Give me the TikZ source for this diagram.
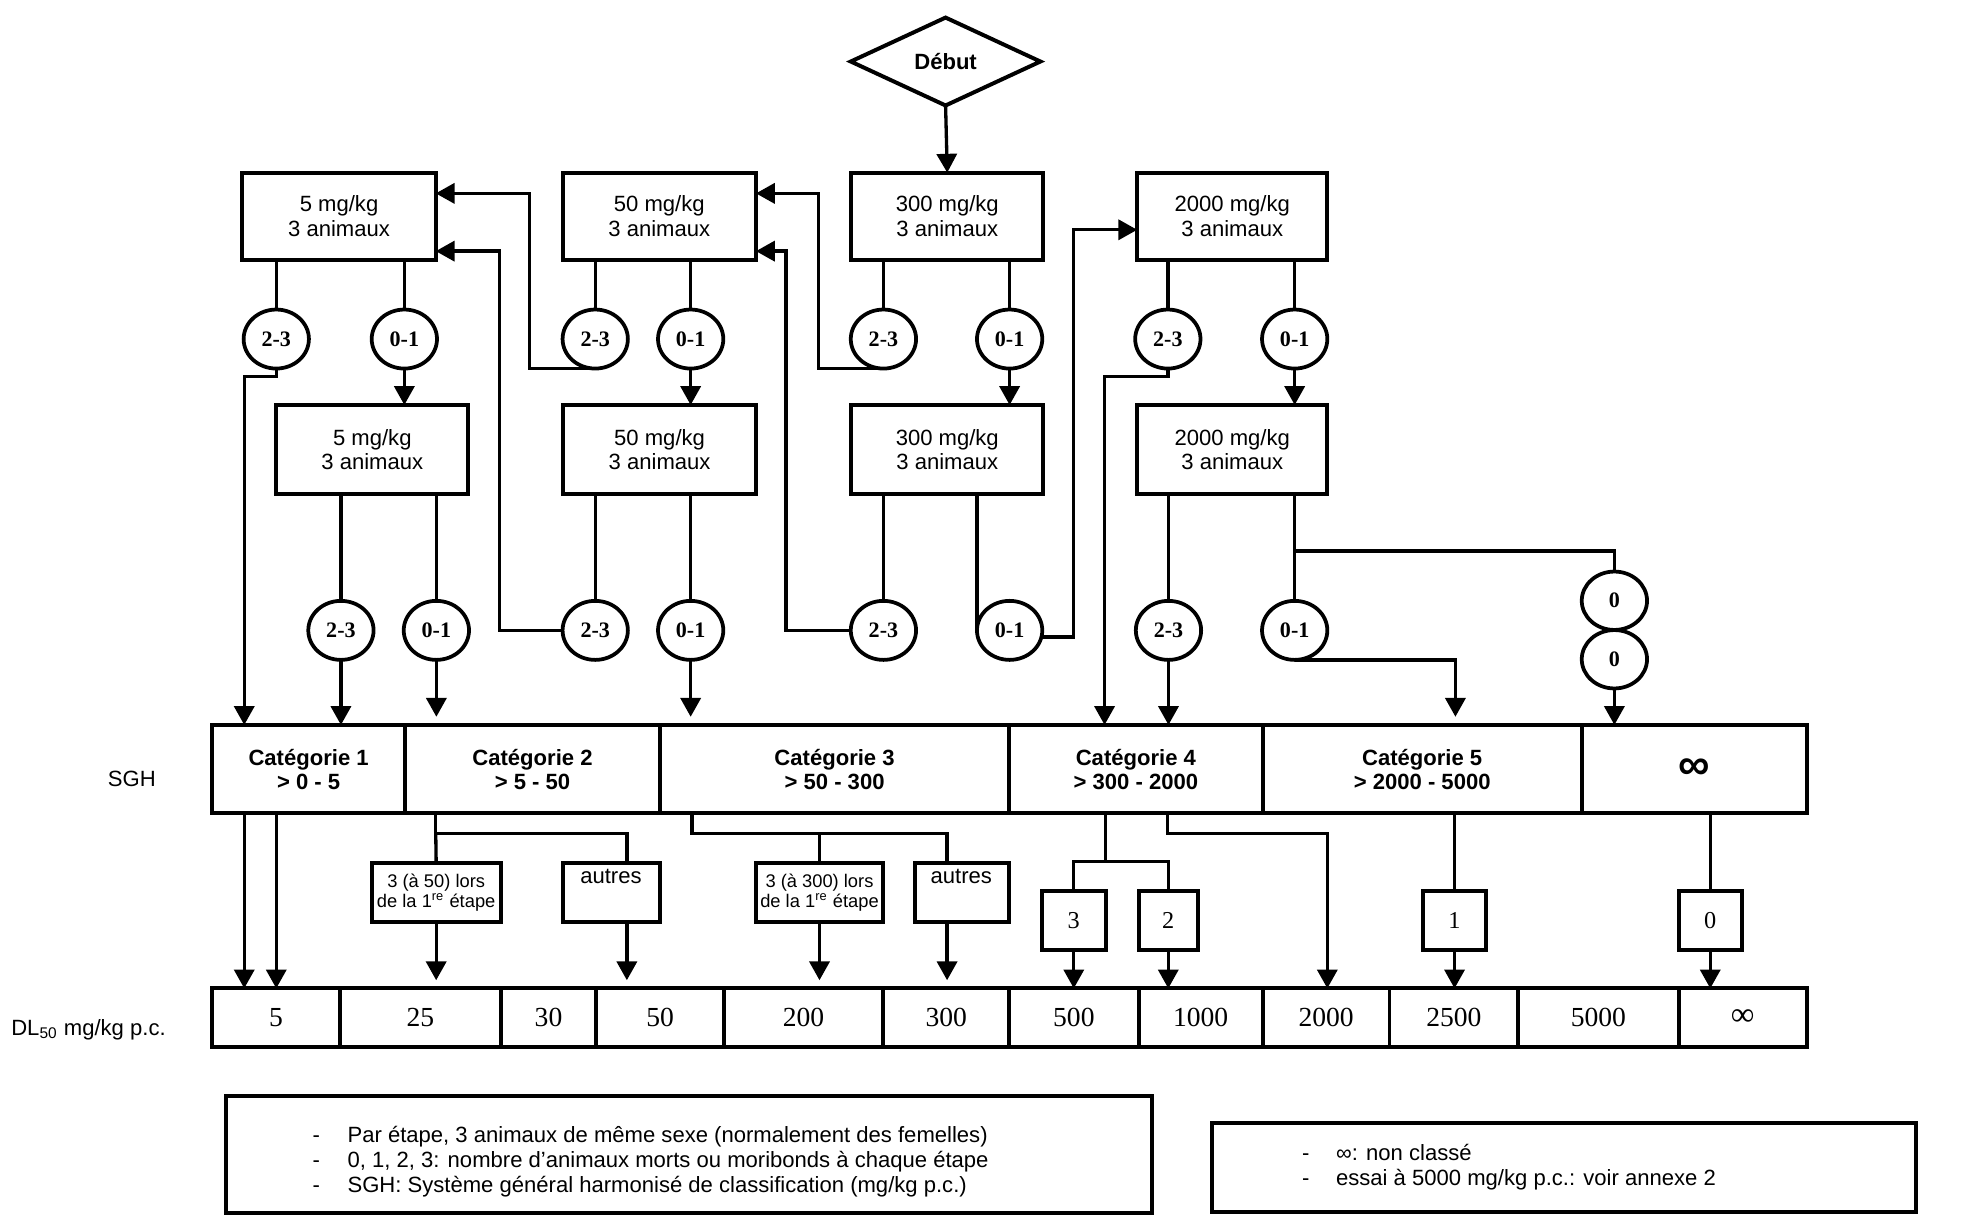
\documentclass[tikz,border=0pt]{standalone}
\usepackage{fontspec}
\setmainfont{Liberation Sans}
\newfontfamily\serif{Liberation Serif}
\usetikzlibrary{arrows.meta,shapes.geometric}
\newcommand{\pxl}[1]{#1*0.02cm}
\begin{document}
\begin{tikzpicture}[x=0.02cm,y=-0.02cm,line width=1.5pt,
  arr/.style={-{Triangle[length=0.3cm,width=0.32cm]}},
  box/.style={draw,rectangle,inner sep=0pt,outer sep=0pt,align=center,line width=1.8pt,
    font=\fontsize{10}{11.3}\selectfont},
  circ/.style={draw,ellipse,inner sep=0pt,outer sep=0pt,line width=1.7pt,minimum width=\pxl{52},minimum height=\pxl{47},
    font=\serif\bfseries\fontsize{10}{10}\selectfont},
  cell/.style={draw,rectangle,inner sep=0pt,outer sep=0pt,align=center,line width=1.8pt,
    minimum height=\pxl{70.4},font=\bfseries\fontsize{10}{10.8}\selectfont},
  dlcell/.style={draw,rectangle,inner sep=0pt,outer sep=0pt,line width=1.8pt,
    minimum height=\pxl{46.4},font=\serif\fontsize{12.5}{13}\selectfont},
  sbox/.style={draw,rectangle,inner sep=0pt,outer sep=0pt,align=center,line width=1.8pt,
    minimum height=\pxl{46.5},font=\fontsize{8.3}{7.8}\selectfont},
  nbox/.style={draw,rectangle,inner sep=0pt,outer sep=0pt,line width=1.8pt,
    minimum height=\pxl{47.3},font=\serif\fontsize{11}{12}\selectfont},
  lbl/.style={inner sep=0pt,outer sep=0pt,font=\fontsize{10}{11.3}\selectfont},
  gap/.style={shorten >=0.13cm}
]
\useasboundingbox (0,0) rectangle (1568,979);

% start
\node[draw,diamond,aspect=2.16,inner sep=0pt,outer sep=0pt,line width=1.8pt,minimum width=\pxl{151},minimum height=\pxl{70},
  font=\bfseries\fontsize{10}{12}\selectfont] (debut) at (753,49) {Début};

% row 1 boxes
\node[box,minimum width=\pxl{154},minimum height=\pxl{69.5}] (A1) at (270,172.25) {5 mg/kg\\3 animaux};
\node[box,minimum width=\pxl{154},minimum height=\pxl{69.5}] (B1) at (525,172.25) {50 mg/kg\\3 animaux};
\node[box,minimum width=\pxl{152.7},minimum height=\pxl{69.5}] (C1) at (754.35,172.25) {300 mg/kg\\3 animaux};
\node[box,minimum width=\pxl{151.4},minimum height=\pxl{69.5}] (D1) at (981.3,172.25) {2000 mg/kg\\3 animaux};

% row 2 boxes
\node[box,minimum width=\pxl{153},minimum height=\pxl{71.1}] (A2) at (296.5,358.05) {5 mg/kg\\3 animaux};
\node[box,minimum width=\pxl{153.5},minimum height=\pxl{71.1}] (B2) at (525.25,358.05) {50 mg/kg\\3 animaux};
\node[box,minimum width=\pxl{152.7},minimum height=\pxl{71.1}] (C2) at (754.35,358.05) {300 mg/kg\\3 animaux};
\node[box,minimum width=\pxl{151.4},minimum height=\pxl{71.1}] (D2) at (981.3,358.05) {2000 mg/kg\\3 animaux};

% circles row 1
\node[circ] (a1x) at (220,270) {2-3};
\node[circ] (a1o) at (322,270) {0-1};
\node[circ] (b1x) at (474,270) {2-3};
\node[circ] (b1o) at (550,270) {0-1};
\node[circ] (c1x) at (703.5,270) {2-3};
\node[circ] (c1o) at (804,270) {0-1};
\node[circ] (d1x) at (930,270) {2-3};
\node[circ] (d1o) at (1031,270) {0-1};

% circles row 2
\node[circ] (a2x) at (271.5,502) {2-3};
\node[circ] (a2o) at (347.5,502) {0-1};
\node[circ] (b2x) at (474,502) {2-3};
\node[circ] (b2o) at (550,502) {0-1};
\node[circ] (c2x) at (703.5,502) {2-3};
\node[circ] (c2o) at (804,502) {0-1};
\node[circ] (d2x) at (930.5,502) {2-3};
\node[circ] (d2o) at (1031,502) {0-1};
\node[circ,minimum height=\pxl{46.5}] (z1) at (1285.6,478.4) {0};
\node[circ,minimum height=\pxl{46.5}] (z2) at (1285.6,525) {0};

% category row
\node[cell,minimum width=\pxl{153.5}] (cat1) at (245.75,612.5) {Catégorie 1\\> 0 - 5};
\node[cell,minimum width=\pxl{203.1}] (cat2) at (424.05,612.5) {Catégorie 2\\> 5 - 50};
\node[cell,minimum width=\pxl{278}] (cat3) at (664.6,612.5) {Catégorie 3\\> 50 - 300};
\node[cell,minimum width=\pxl{201.9}] (cat4) at (904.55,612.5) {Catégorie 4\\> 300 - 2000};
\node[cell,minimum width=\pxl{254.1}] (cat5) at (1132.55,612.5) {Catégorie 5\\> 2000 - 5000};
\node[cell,minimum width=\pxl{179.1}] (cat6) at (1349.15,612.5) {\fontsize{20}{20}\selectfont ∞};

% DL row
\node[dlcell,minimum width=\pxl{101.7}] (dl1) at (219.85,810.3) {5};
\node[dlcell,minimum width=\pxl{128}] (dl2) at (334.7,810.3) {25};
\node[dlcell,minimum width=\pxl{76.2}] (dl3) at (436.8,810.3) {30};
\node[dlcell,minimum width=\pxl{101.5}] (dl4) at (525.65,810.3) {50};
\node[dlcell,minimum width=\pxl{127}] (dl5) at (639.9,810.3) {200};
\node[dlcell,minimum width=\pxl{100.2}] (dl6) at (753.5,810.3) {300};
\node[dlcell,minimum width=\pxl{103.1}] (dl7) at (855.15,810.3) {500};
\node[dlcell,minimum width=\pxl{98.8}] (dl8) at (956.1,810.3) {1000};
\node[dlcell,minimum width=\pxl{101}] (dl9) at (1056,810.3) {2000};
\node[dlcell,minimum width=\pxl{102.6}] (dl10) at (1157.8,810.3) {2500};
\node[dlcell,minimum width=\pxl{127.6}] (dl11) at (1272.9,810.3) {5000};
\node[dlcell,minimum width=\pxl{102}] (dl12) at (1387.7,810.3) {\fontsize{15}{15}\selectfont ∞};

% lower small boxes
\node[sbox,minimum width=\pxl{102.7}] (s50) at (347.35,710.75) {3 (à 50) lors\\de la 1\textsuperscript{re} étape};
\node[sbox,minimum width=\pxl{77.1}] (autres1) at (487.05,710.75) {};
\node[sbox,minimum width=\pxl{101.6}] (s300) at (652.6,710.75) {3 (à 300) lors\\de la 1\textsuperscript{re} étape};
\node[sbox,minimum width=\pxl{74.8}] (autres2) at (766.2,710.75) {};
\node[lbl] (ta1) at (486.5,698) {autres};
\node[lbl] (ta2) at (765.5,698) {autres};
\node[nbox,minimum width=\pxl{51}] (b3) at (855.1,732.95) {3};
\node[nbox,minimum width=\pxl{47.3}] (b2) at (930.35,732.95) {2};
\node[nbox,minimum width=\pxl{50.6}] (b1) at (1158.3,732.95) {1};
\node[nbox,minimum width=\pxl{50.5}] (b0) at (1361.95,732.95) {0};

% side labels
\node[lbl] (sgh) at (105,620) {SGH};
\node[lbl,anchor=west] (dlab) at (9,820) {DL\textsubscript{50} mg/kg p.c.};

% legends
\node[draw,rectangle,inner sep=0pt,outer sep=0pt,line width=1.8pt,minimum width=\pxl{737.3},minimum height=\pxl{93.5}] (leg1) at (548.95,919.55) {};
\node[lbl,anchor=west,align=left] (leg1t) at (249,925) {\makebox[0.556cm][l]{-}Par étape, 3 animaux de même sexe (normalement des femelles)\\
\makebox[0.556cm][l]{-}0, 1, 2, 3: nombre d’animaux morts ou moribonds à chaque étape\\
\makebox[0.556cm][l]{-}SGH: Système général harmonisé de classification (mg/kg p.c.)};
\node[draw,rectangle,inner sep=0pt,outer sep=0pt,line width=1.8pt,minimum width=\pxl{560.8},minimum height=\pxl{70.4}] (leg2) at (1245.2,929.8) {};
\node[lbl,anchor=west,align=left] (leg2t) at (1037,929.7) {\makebox[0.54cm][l]{-}∞: non classé\\
\makebox[0.54cm][l]{-}essai à 5000 mg/kg p.c.: voir annexe 2};

% ===== connectors =====
\draw[arr] (debut.south) -- (C1.north);

% boxes to circles
\foreach \b/\c in {A1/a1x,A1/a1o,B1/b1x,B1/b1o,C1/c1x,C1/c1o,D1/d1x,D1/d1o,
                   A2/a2x,A2/a2o,B2/b2x,B2/b2o,C2/c2x,D2/d2x,D2/d2o}
  \draw (\b.south -| \c) -- (\c.north);
\draw (C2.south -| c2o.west) -- (c2o.west);

% 0-1 row 1 to row 2 boxes
\draw[arr] (a1o.south) -- (A2.north -| a1o);
\draw[arr] (b1o.south) -- (B2.north -| b1o);
\draw[arr] (c1o.south) -- (C2.north -| c1o);
\draw[arr] (d1o.south) -- (D2.north -| d1o);

% feedback routes
\coordinate (ka1) at (194.5,300);
\draw[arr] (a1x.south) |- (ka1) -- (ka1 |- cat1.north);
\coordinate (kb1) at (421.5,154);
\draw[arr] (b1x.south) -| (kb1) -- (A1.east |- kb1);
\coordinate (kc1) at (651.6,154);
\draw[arr] (c1x.south) -| (kc1) -- (B1.east |- kc1);
\coordinate (kd1) at (879.6,300);
\draw[arr] (d1x.south) |- (kd1) -- (kd1 |- cat4.north);
\coordinate (kb2) at (397.7,200);
\draw[arr] (b2x.west) -| (kb2) -- (A1.east |- kb2);
\coordinate (kc2) at (626,200);
\draw[arr] (c2x.west) -| (kc2) -- (B1.east |- kc2);
\coordinate (kc3) at (855,183);
\draw[arr] (c2o.-12) -| (kc3) -- (D1.west |- kc3);

% row 2 circles to categories
\draw[arr] (a2x.south) -- (a2x.south |- cat1.north);
\draw[arr,gap] (a2o.south) -- (a2o.south |- cat2.north);
\draw[arr,gap] (b2o.south) -- (b2o.south |- cat3.north);
\draw[arr] (d2x.south) -- (d2x.south |- cat4.north);
\coordinate (kd2) at (1159,0);
\draw[arr,gap] (d2o.south) -| (kd2 |- cat5.north);
\coordinate (kz) at (1031,438.8);
\draw (kz) -| (z1.north);
\draw[arr] (z2.south) -- (z2.south |- cat6.north);

% categories to DL
\draw[arr] (cat1.south -| ka1) -- (dl1.north -| ka1);
\draw[arr] (cat1.south -| a1x) -- (dl1.north -| a1x);

\coordinate (kl2) at (347,663.6);
\coordinate (kl3) at (499.2,663.6);
\draw (cat2.south -| kl2) -- (kl2) -| (autres1.north -| kl3);
\draw (kl2) -- (s50.north);
\draw[arr,gap] (s50.south) -- (dl2.north -| s50);
\draw[arr,gap] (autres1.south -| kl3) -- (dl4.north -| kl3);

\coordinate (kl4) at (551,663.6);
\coordinate (kl5) at (754.2,663.6);
\draw (cat3.south -| kl4) -- (kl4) -| (autres2.north -| kl5);
\draw (s300.north |- kl4) -- (s300.north);
\draw[arr,gap] (s300.south) -- (dl5.north -| s300);
\draw[arr,gap] (autres2.south -| kl5) -- (dl6.north -| kl5);

\coordinate (kl6) at (880.6,686.2);
\draw (cat4.south -| kl6) -- (kl6);
\draw (b3.north) |- (kl6) -| (b2.north);
\draw[arr] (b3.south) -- (dl7.north -| b3);
\draw[arr] (b2.south) -- (dl8.north -| b2);

\coordinate (kl7) at (929.5,663.6);
\coordinate (kl8) at (1057,663.6);
\draw[arr] (cat4.south -| kl7) -- (kl7) -- (kl8) -- (dl9.north -| kl8);

\draw (cat5.south -| b1) -- (b1.north);
\draw[arr] (b1.south) -- (dl10.north -| b1);
\draw (cat6.south -| b0) -- (b0.north);
\draw[arr] (b0.south) -- (dl12.north -| b0);
\end{tikzpicture}
\end{document}
